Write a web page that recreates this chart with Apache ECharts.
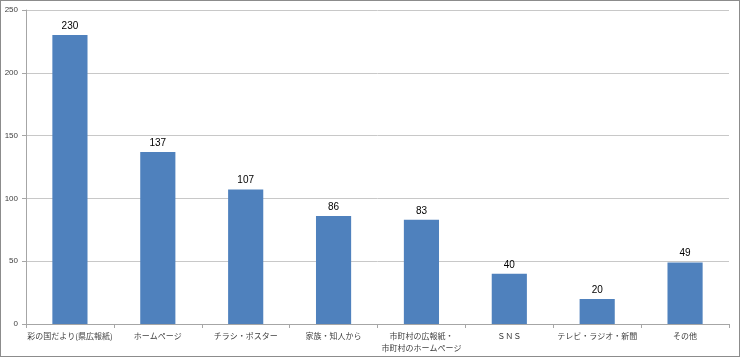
<!DOCTYPE html>
<html><head><meta charset="utf-8">
<script src="https://cdn.jsdelivr.net/npm/echarts@6/dist/echarts.min.js"></script>
<style>html,body{margin:0;padding:0;background:#fff}#c{width:740px;height:357px;box-sizing:border-box;border:1px solid #8c8c8c}</style>
</head><body><div id="c"></div>
<script>
const categories = ["彩の国だより(県広報紙)", "ホームページ", "チラシ・ポスター", "家族・知人から", "市町村の広報紙・\n市町村のホームページ", "ＳＮＳ", "テレビ・ラジオ・新聞", "その他"];
const values = [230, 137, 107, 86, 83, 40, 20, 49];
const yTicks = [0, 50, 100, 150, 200, 250];
const chart = echarts.init(document.getElementById('c'));
chart.setOption({
  animation: false,
  grid: {left: 25, right: 10, top: 9, bottom: 32},
  xAxis: {
    type: 'category', data: categories,
    axisLine: {lineStyle: {color: '#a6a6a6'}},
    axisTick: {show: true, length: 4, lineStyle: {color: '#a6a6a6'}},
    axisLabel: {color: '#404040', fontSize: 8, fontFamily: 'Noto Sans CJK JP', margin: 6, lineHeight: 12, interval: 0}
  },
  yAxis: {
    type: 'value', min: yTicks[0], max: yTicks[yTicks.length-1], interval: 50,
    axisLine: {show: true, lineStyle: {color: '#a6a6a6'}},
    axisTick: {show: true, length: 4, lineStyle: {color: '#a6a6a6'}},
    splitLine: {lineStyle: {color: '#c8c8c8'}},
    axisLabel: {color: '#404040', fontSize: 8, fontFamily: 'Liberation Sans', margin: 8}
  },
  series: [{
    type: 'bar', data: values, barWidth: '40%',
    itemStyle: {color: '#4f81bd'},
    label: {show: true, position: 'top', color: '#000', fontSize: 10, fontFamily: 'Liberation Sans', distance: 4}
  }]
});
</script></body></html>
